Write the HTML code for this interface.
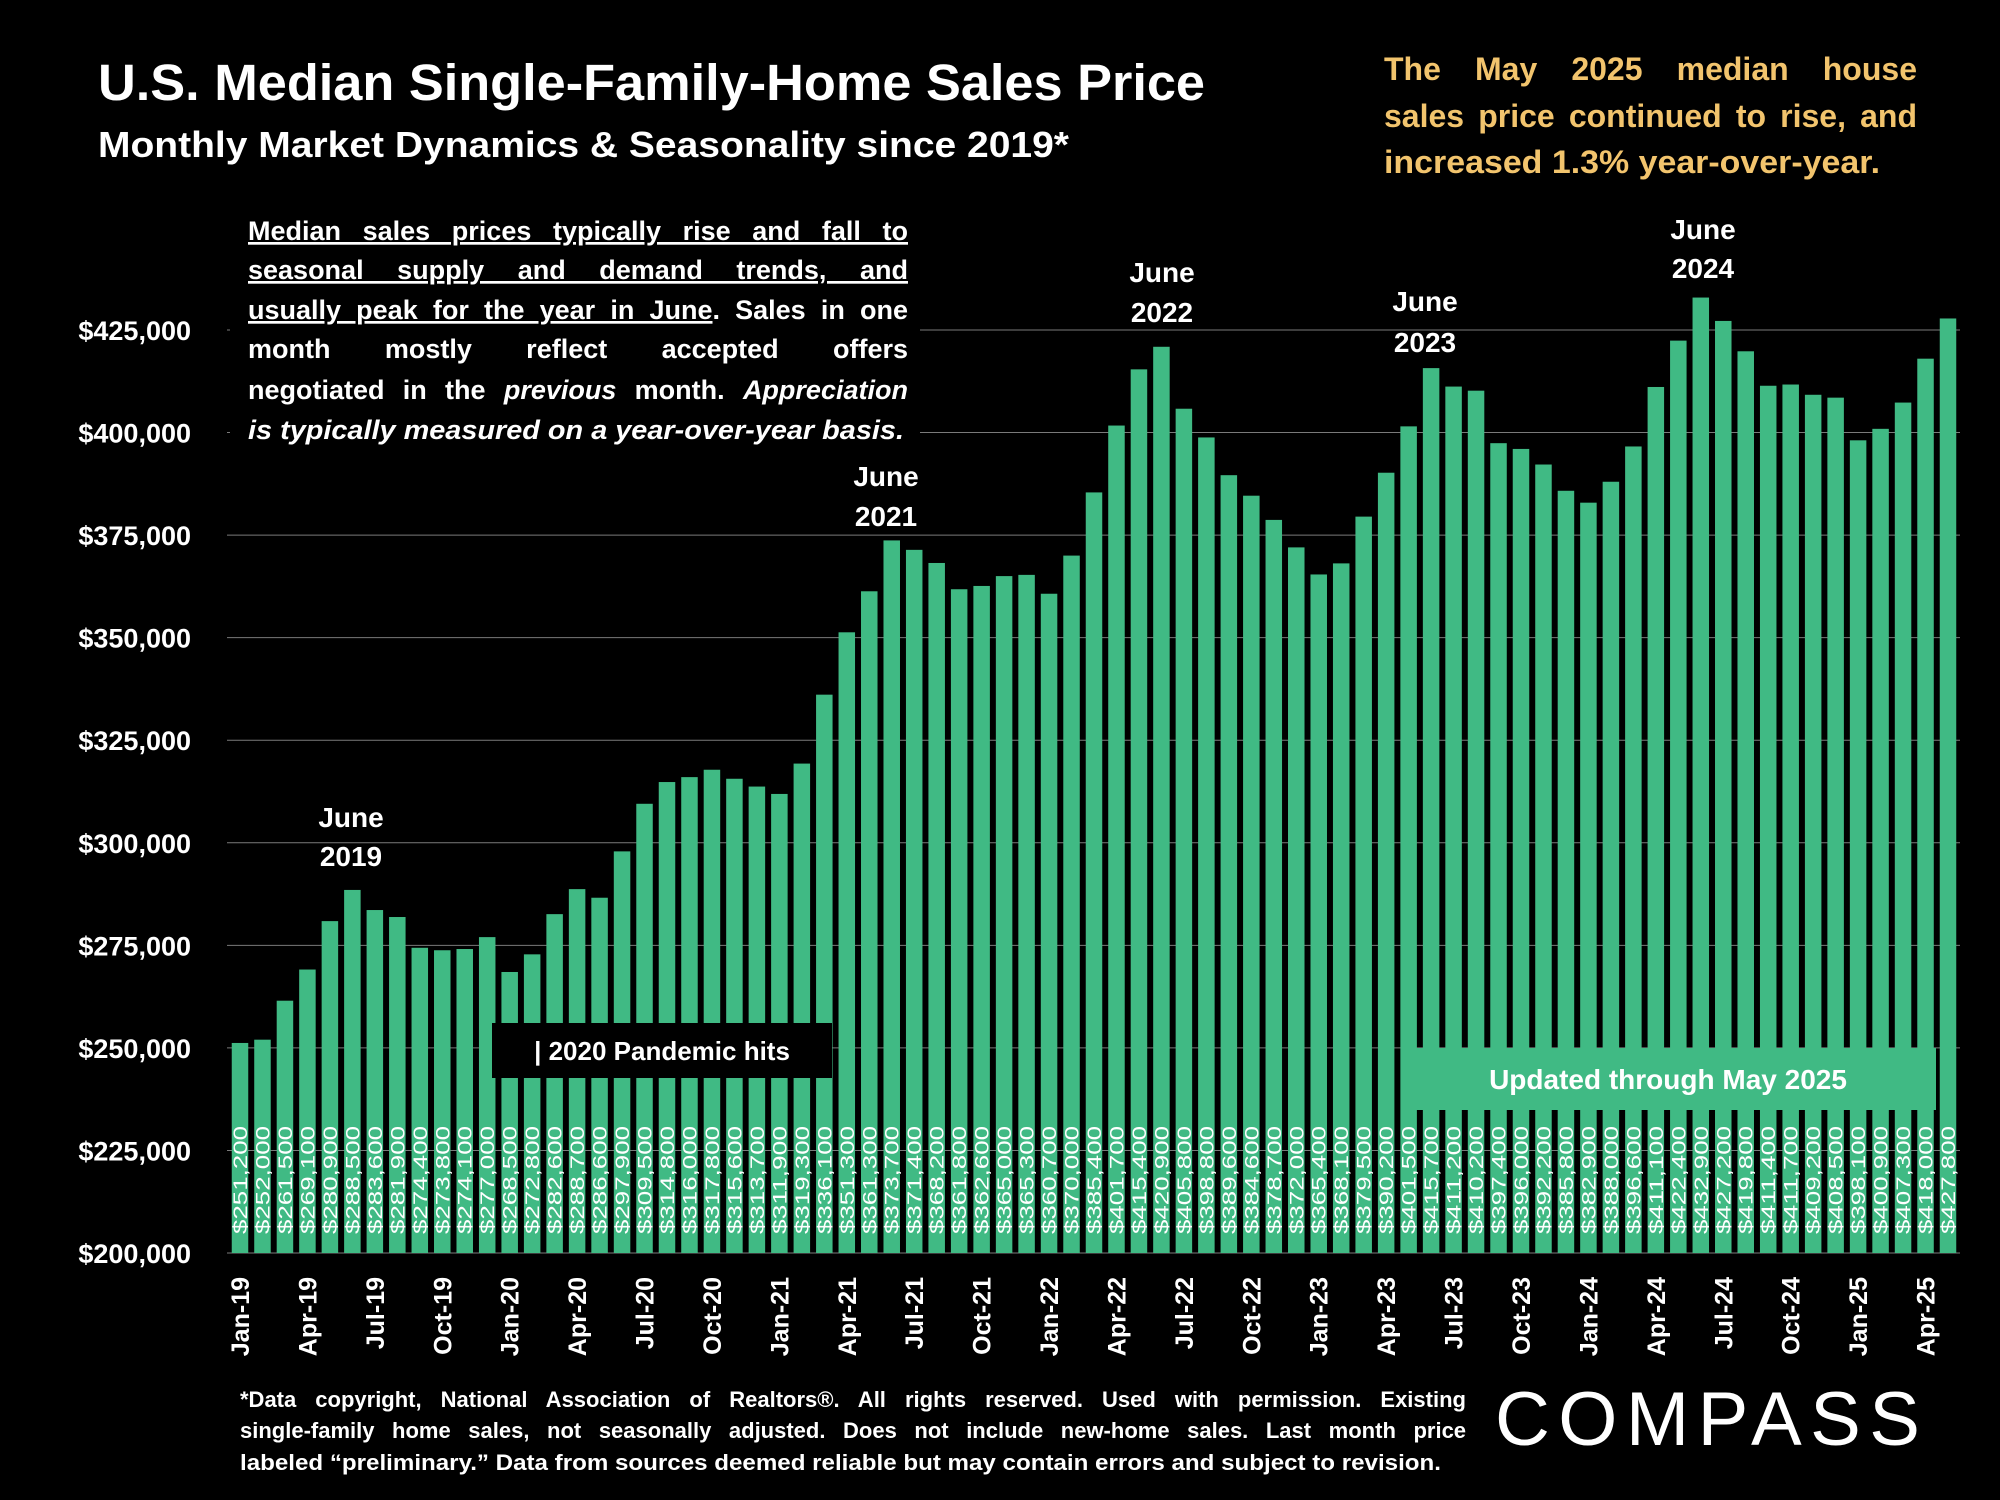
<!DOCTYPE html>
<html><head><meta charset="utf-8"><style>
html,body{margin:0;padding:0;background:#000;}
svg{display:block;font-family:"Liberation Sans",sans-serif;}
</style></head>
<body>
<svg id="chart" width="2000" height="1500" viewBox="0 0 2000 1500" xmlns="http://www.w3.org/2000/svg">
<rect x="0" y="0" width="2000" height="1500" fill="#000"/>
<g id="grid"></g>
<g id="ylabels"></g>
<g id="bars"></g>
<g id="vlabels"></g>
<g id="xlabels"></g>

<text x="98" y="100" fill="#fff" font-weight="bold" font-size="51" textLength="1107" lengthAdjust="spacingAndGlyphs">U.S. Median Single-Family-Home Sales Price</text>
<text x="98" y="157" fill="#fff" font-weight="bold" font-size="36" textLength="971" lengthAdjust="spacingAndGlyphs">Monthly Market Dynamics &amp; Seasonality since 2019*</text>

<g fill="#f2c46d" font-weight="bold" font-size="32">
<text x="1384" y="80" data-w="533">The May  2025 median house</text>
<text x="1384" y="127" data-w="533">sales price continued to rise, and</text>
<text x="1384" y="173" textLength="496" lengthAdjust="spacingAndGlyphs">increased 1.3% year-over-year.</text>
</g>

<rect x="230" y="205" width="690" height="248" fill="#000"/>
<g fill="#fff" font-size="27" font-weight="bold">
<text x="248" y="240" data-w="660" text-decoration="underline">Median sales prices typically rise and fall to</text>
<text x="248" y="279" data-w="660" text-decoration="underline">seasonal supply and demand trends, and</text>
<text x="248" y="319" data-w="660"><tspan text-decoration="underline">usually peak for the year in June</tspan>. Sales in one</text>
<text x="248" y="358" data-w="660">month mostly reflect accepted offers</text>
<text x="248" y="399" data-w="660">negotiated in the <tspan font-style="italic">previous</tspan> month. <tspan font-style="italic">Appreciation</tspan></text>
<text x="248" y="439" textLength="656" lengthAdjust="spacingAndGlyphs" font-style="italic">is typically measured on a year-over-year basis.</text>
</g>

<g fill="#fff" font-weight="bold" font-size="28" text-anchor="middle">
<text x="351" y="827">June</text><text x="351" y="866">2019</text>
<text x="886" y="486">June</text><text x="886" y="526">2021</text>
<text x="1162" y="282">June</text><text x="1162" y="322">2022</text>
<text x="1425" y="311">June</text><text x="1425" y="352">2023</text>
<text x="1703" y="239">June</text><text x="1703" y="278">2024</text>
</g>

<rect x="492" y="1023" width="340" height="55" fill="#000"/>
<text x="662" y="1060" fill="#fff" font-weight="bold" font-size="26" text-anchor="middle">| 2020 Pandemic hits</text>

<rect x="1403" y="1048" width="533" height="62" fill="#40ba84"/>
<text x="1668" y="1089" fill="#fff" font-weight="bold" font-size="28" text-anchor="middle">Updated through May 2025</text>

<g fill="#fff" font-weight="bold" font-size="22">
<text x="240" y="1407" data-w="1226">*Data copyright, National Association of Realtors®. All rights reserved. Used with permission. Existing</text>
<text x="240" y="1438" data-w="1226">single-family home sales, not seasonally adjusted. Does not include new-home sales. Last month price</text>
<text x="240" y="1470" textLength="1201" lengthAdjust="spacingAndGlyphs">labeled “preliminary.” Data from sources deemed reliable but may contain errors and subject to revision.</text>
</g>
<text x="1495" y="1445" fill="#fff" font-size="76" textLength="425" lengthAdjust="spacing">COMPASS</text>
</svg>
<script>
const months = ["Jan","Feb","Mar","Apr","May","Jun","Jul","Aug","Sep","Oct","Nov","Dec"];
const startYear = 19;
const prices = [
251200,252000,261500,269100,280900,288500,283600,281900,274400,273800,274100,277000,
268500,272800,282600,288700,286600,297900,309500,314800,316000,317800,315600,313700,
311900,319300,336100,351300,361300,373700,371400,368200,361800,362600,365000,365300,
360700,370000,385400,401700,415400,420900,405800,398800,389600,384600,378700,372000,
365400,368100,379500,390200,401500,415700,411200,410200,397400,396000,392200,385800,
382900,388000,396600,411100,422400,432900,427200,419800,411400,411700,409200,408500,
398100,400900,407300,418000,427800];
const yTicks = [200000,225000,250000,275000,300000,325000,350000,375000,400000,425000];

const NS = "http://www.w3.org/2000/svg";
const yMin = 200000, y0 = 1253, pxPer = 102.56 / 25000;
const xFirst = 240, xLast = 1948;
const step = (xLast - xFirst) / (prices.length - 1);
const barW = 16.5;
function yScale(v){ return y0 - (v - yMin) * pxPer; }
function xScale(i){ return xFirst + i * step; }
function mk(tag, attrs, parent){ const e = document.createElementNS(NS, tag); for (const k in attrs) e.setAttribute(k, attrs[k]); parent.appendChild(e); return e; }
function fmt(v){ return "$" + v.toLocaleString("en-US"); }

const grid = document.getElementById("grid");
const yl = document.getElementById("ylabels");
yTicks.forEach(t => {
  const l = mk("line", {x1:227, x2:1960, y1:yScale(t), y2:yScale(t), stroke:"#7a7a7a", "stroke-width":1}, grid);
  
  
  const tx = mk("text", {x:191, y:yScale(t)+10, fill:"#fff", "font-weight":"bold", "font-size":27, "text-anchor":"end"}, yl);
  tx.textContent = fmt(t);
  
  
});

const bars = document.getElementById("bars");
const vl = document.getElementById("vlabels");
const xl = document.getElementById("xlabels");
prices.forEach((v, i) => {
  const cx = xScale(i);
  const r = mk("rect", {x:cx - barW/2, y:yScale(v), width:barW, height:y0 - yScale(v), fill:"#40ba84"}, bars);
  
  
  const t = mk("text", {x:0, y:0, fill:"#fff", "font-size":19, transform:`translate(${cx+7},1234) rotate(-90)`, textLength:108, lengthAdjust:"spacingAndGlyphs"}, vl);
  t.textContent = fmt(v);
  
  
  if (i % 3 === 0) {
    const m = months[i % 12] + "-" + (startYear + Math.floor(i / 12));
    const xt = mk("text", {x:0, y:0, fill:"#fff", "font-weight":"bold", "font-size":25, "text-anchor":"end", transform:`translate(${cx+9},1277) rotate(-90)`}, xl);
    xt.textContent = m;
    
    
  }
});

// justify lines via word-spacing
document.querySelectorAll("text[data-w]").forEach(t => {
  const target = parseFloat(t.getAttribute("data-w"));
  const txt = t.textContent;
  const gaps = (txt.trim().match(/ +/g) || []).length;
  const w = t.getComputedTextLength();
  if (gaps > 0 && w < target) {
    t.setAttribute("word-spacing", ((target - w) / gaps).toFixed(2));
  } else if (w > target) {
    t.setAttribute("textLength", target);
    t.setAttribute("lengthAdjust", "spacingAndGlyphs");
  }
});
</script>
</body></html>
